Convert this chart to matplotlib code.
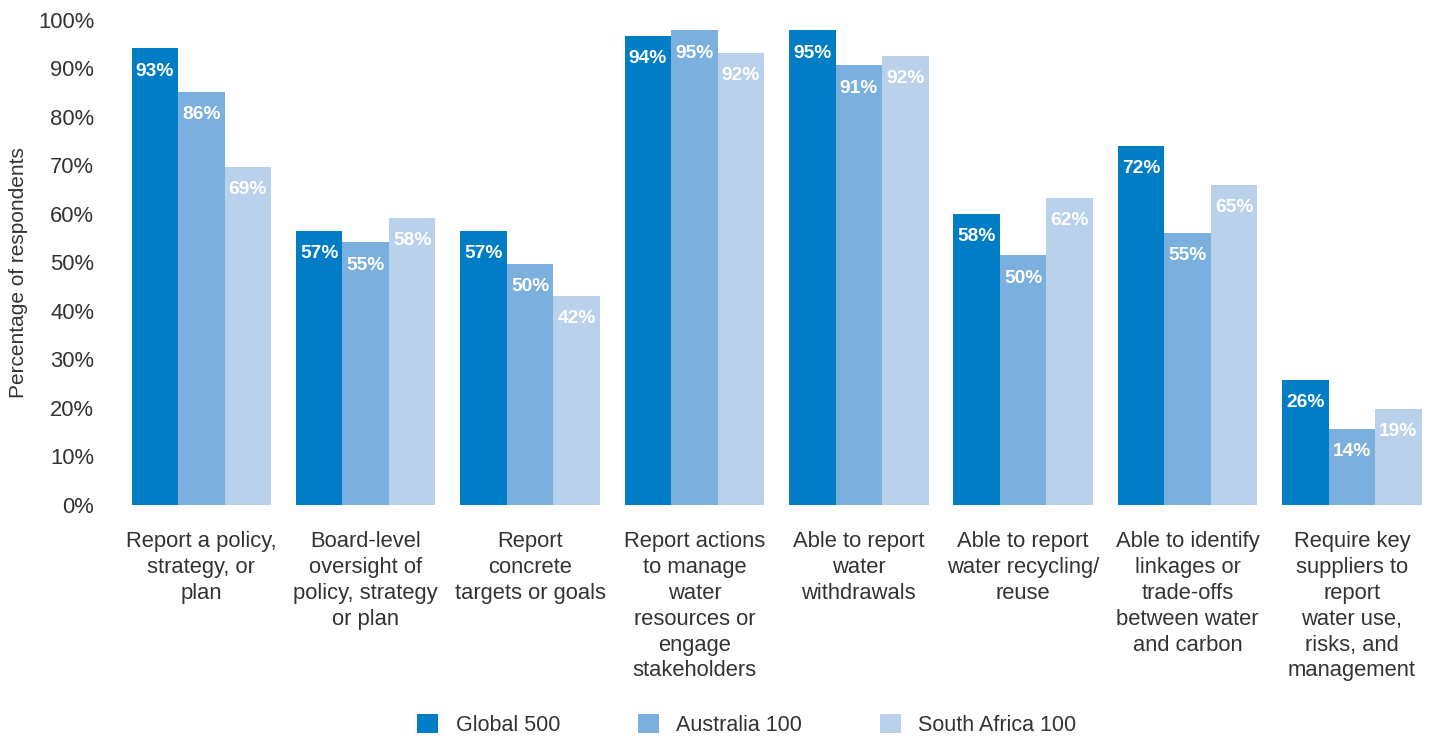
import matplotlib.pyplot as plt
import numpy as np

plt.rcParams['font.family'] = ['Liberation Sans', 'DejaVu Sans']

categories = [
    'Report a policy,\nstrategy, or\nplan',
    'Board-level\noversight of\npolicy, strategy\nor plan',
    'Report\nconcrete\ntargets or goals',
    'Report actions\nto manage\nwater\nresources or\nengage\nstakeholders',
    'Able to report\nwater\nwithdrawals',
    'Able to report\nwater recycling/\nreuse',
    'Able to identify\nlinkages or\ntrade-offs\nbetween water\nand carbon',
    'Require key\nsuppliers to\nreport\nwater use,\nrisks, and\nmanagement',
]
series = ['Global 500', 'Australia 100', 'South Africa 100']

# printed labels
global_lbl = [93, 57, 57, 94, 95, 58, 72, 26]
australia_lbl = [86, 55, 50, 95, 91, 50, 55, 14]
safrica_lbl = [69, 58, 42, 92, 92, 62, 65, 19]

# bar heights as drawn
global_h = [94.2, 56.5, 56.5, 96.7, 97.9, 60.0, 74.0, 25.8]
australia_h = [85.2, 54.2, 49.7, 97.9, 90.7, 51.5, 56.1, 15.7]
safrica_h = [69.7, 59.2, 43.1, 93.2, 92.6, 63.3, 66.0, 19.8]

colors = ['#007dc5', '#7bafde', '#bad1ec']
heights = [global_h, australia_h, safrica_h]
labels = [global_lbl, australia_lbl, safrica_lbl]

fig = plt.figure(figsize=(14.36, 7.4), dpi=100)
ax = fig.add_axes([0.083, 0.3176, 0.9156, 0.6554])

x = np.arange(len(categories))
w = 0.283
for i in range(3):
    pos = x + (i - 1) * w
    bars = ax.bar(pos, heights[i], width=w, color=colors[i], label=series[i])
    for b, lab in zip(bars, labels[i]):
        ax.annotate(f'{lab}%', (b.get_x() + b.get_width() / 2, b.get_height()),
                    xytext=(0, -16.5), textcoords='offset points',
                    ha='center', va='center', color='white',
                    fontsize=13.8, fontweight='bold')

ax.set_xlim(-0.5, len(categories) - 0.5)
ax.set_ylim(0, 100)
ax.set_yticks(range(0, 101, 10))
ax.set_yticklabels([f'{v}%' for v in range(0, 101, 10)])
ax.set_xticks(x)
ax.set_xticklabels(categories, linespacing=1.3)
ax.tick_params(length=0, labelsize=15.8, labelcolor='#333333')
ax.tick_params(axis='x', pad=19)
ax.tick_params(axis='y', pad=18)
for s in ax.spines.values():
    s.set_visible(False)
ax.set_ylabel('Percentage of respondents', fontsize=15, color='#333333')
ax.yaxis.set_label_coords(-0.069, 0.48)

fig.legend(loc='center', bbox_to_anchor=(0.52, 0.02), ncol=3, frameon=False,
           fontsize=15.5, handlelength=1.0, handleheight=1.0, columnspacing=3.6,
           handletextpad=0.8, labelcolor='#333333')

fig.savefig('out.png', dpi=100)
